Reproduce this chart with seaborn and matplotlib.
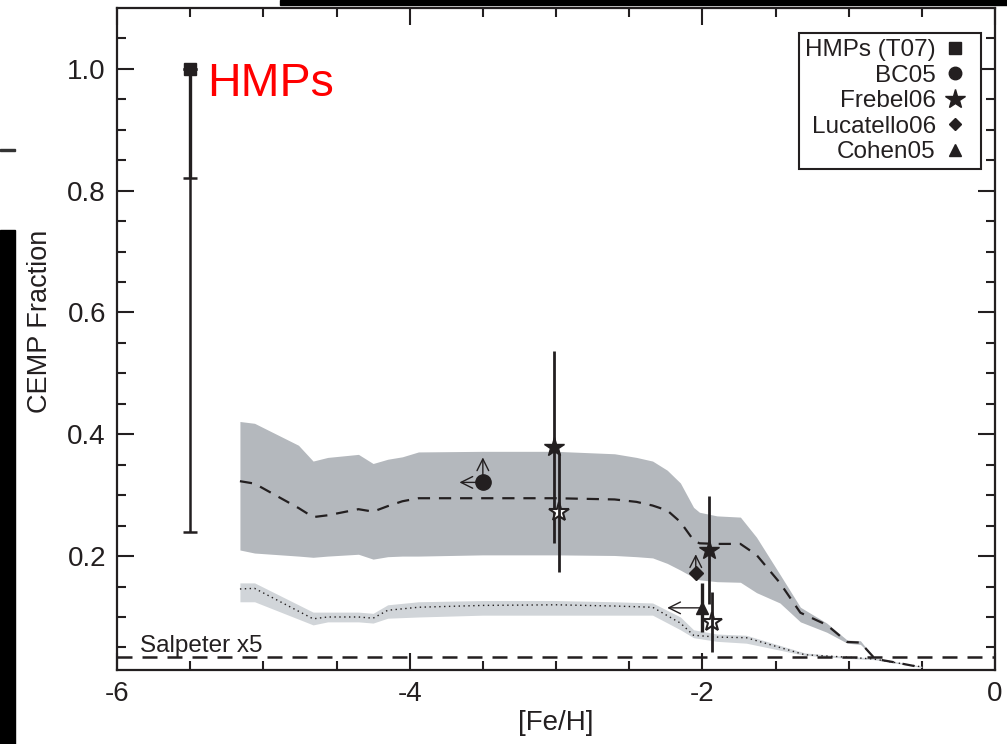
import numpy as np
import pandas as pd
import matplotlib
matplotlib.use("Agg")
import matplotlib.pyplot as plt
import seaborn as sns
from matplotlib.lines import Line2D
from matplotlib.patches import Rectangle

# ---------------- data ----------------
# upper (dark) model band: [Fe/H], lower edge, median, upper edge
upper_feh = [-5.16, -5.06, -4.76, -4.66, -4.56, -4.35, -4.25, -4.15, -4.05, -3.94,
             -3.50, -3.00, -2.60, -2.45, -2.34, -2.24, -2.15, -2.06, -2.02, -1.90,
             -1.74, -1.63, -1.47, -1.33, -1.15, -1.01, -0.92, -0.83, -0.79, -0.65, -0.52]
upper_lo = [0.210, 0.205, 0.200, 0.198, 0.200, 0.203, 0.195, 0.199, 0.200, 0.200,
            0.202, 0.202, 0.201, 0.199, 0.197, 0.188, 0.177, 0.165, 0.161, 0.158,
            0.157, 0.140, 0.123, 0.092, 0.075, 0.057, 0.055, 0.034, 0.030, 0.024, 0.018]
upper_mid = [0.323, 0.319, 0.279, 0.264, 0.267, 0.277, 0.273, 0.282, 0.290, 0.295,
             0.295, 0.295, 0.293, 0.289, 0.283, 0.275, 0.256, 0.226, 0.221, 0.220,
             0.220, 0.202, 0.156, 0.107, 0.087, 0.059, 0.058, 0.034, 0.030, 0.024, 0.018]
upper_hi = [0.421, 0.418, 0.382, 0.356, 0.362, 0.367, 0.352, 0.359, 0.363, 0.371,
            0.372, 0.372, 0.368, 0.362, 0.356, 0.341, 0.320, 0.280, 0.272, 0.266,
            0.264, 0.231, 0.170, 0.116, 0.090, 0.062, 0.061, 0.034, 0.030, 0.024, 0.018]

# lower (light) model band
lower_feh = [-5.16, -5.06, -4.66, -4.56, -4.35, -4.25, -4.15, -3.94, -3.50, -3.00,
             -2.60, -2.34, -2.15, -2.06, -1.90, -1.70, -1.30, -1.01, -0.83, -0.50]
lower_lo = [0.125, 0.125, 0.087, 0.092, 0.092, 0.090, 0.098, 0.100, 0.103, 0.103,
            0.103, 0.103, 0.079, 0.066, 0.060, 0.057, 0.037, 0.032, 0.030, 0.017]
lower_mid = [0.146, 0.147, 0.097, 0.100, 0.100, 0.098, 0.111, 0.116, 0.119, 0.120,
             0.118, 0.116, 0.090, 0.070, 0.067, 0.066, 0.038, 0.034, 0.031, 0.018]
lower_hi = [0.156, 0.156, 0.108, 0.108, 0.108, 0.106, 0.120, 0.125, 0.127, 0.127,
            0.125, 0.123, 0.100, 0.079, 0.072, 0.070, 0.041, 0.035, 0.033, 0.019]

salpeter_level = 0.034

# observations
hmp_feh, hmp_frac = -5.5, 1.00
hmp_err_inner = 0.18   # thick bar down to 0.82
hmp_err_outer = 0.76   # thin bar down to 0.24

bc05_feh, bc05_frac = -3.50, 0.321
lucatello_feh, lucatello_frac = -2.045, 0.172
cohen_feh, cohen_frac, cohen_err = -2.00, 0.115, 0.040

frebel_filled_feh = [-3.015, -1.956]
frebel_filled_frac = [0.379, 0.210]
frebel_filled_err = [0.158, 0.088]
frebel_open_feh = [-2.980, -1.935]
frebel_open_frac = [0.272, 0.092]
frebel_open_err = [0.098, 0.049]

# limit arrows: (x, y) -> (x_end, y_end)
arrow_start_x = [-3.50, -3.50, -2.045, -2.00]
arrow_start_y = [0.321, 0.321, 0.172, 0.115]
arrow_end_x = [-3.66, -3.50, -2.045, -2.24]
arrow_end_y = [0.321, 0.362, 0.203, 0.115]

legend_labels = ["HMPs (T07)", "BC05", "Frebel06", "Lucatello06", "Cohen05"]
x_ticks = [-6, -4, -2, 0]
y_ticks = [0.2, 0.4, 0.6, 0.8, 1.0]

# ---------------- style ----------------
sns.set_theme(style="ticks")
plt.rcParams['font.family'] = ['Liberation Sans', 'DejaVu Sans']
ink = '#231f20'
plt.rcParams['text.color'] = ink
plt.rcParams['axes.labelcolor'] = ink
plt.rcParams['xtick.color'] = ink
plt.rcParams['ytick.color'] = ink

fig = plt.figure(figsize=(10.07, 7.44), dpi=100)
ax = fig.add_axes([0.1162, 0.0995, 0.8719, 0.8898])

dark_band = '#b4b8bd'
light_band = '#d1d5d9'

up = pd.DataFrame({'feh': upper_feh, 'lo': upper_lo, 'mid': upper_mid, 'hi': upper_hi})
lo = pd.DataFrame({'feh': lower_feh, 'lo': lower_lo, 'mid': lower_mid, 'hi': lower_hi})

ax.fill_between(up['feh'], up['lo'], up['hi'], color=dark_band, lw=0, zorder=1)
ax.fill_between(lo['feh'], lo['lo'], lo['hi'], color=light_band, lw=0, zorder=1)

sns.lineplot(data=up, x='feh', y='mid', ax=ax, color=ink, lw=1.6,
             linestyle=(0, (5.5, 4)), zorder=2)
sns.lineplot(data=lo, x='feh', y='mid', ax=ax, color=ink, lw=1.0,
             linestyle=(0, (1, 2.5)), zorder=2)

ax.axhline(salpeter_level, color=ink, lw=1.8, linestyle=(0, (6, 4)), zorder=2)
ax.text(-5.84, 0.043, "Salpeter x5", fontsize=17.5, color=ink)

# arrows (limits)
for xs, ys, xe, ye in zip(arrow_start_x, arrow_start_y, arrow_end_x, arrow_end_y):
    ax.annotate("", xy=(xe, ye), xytext=(xs, ys),
                arrowprops=dict(arrowstyle='->,head_length=0.7,head_width=0.35',
                                color=ink, lw=1.0, shrinkA=0, shrinkB=0),
                zorder=3)

# HMPs
ax.errorbar([hmp_feh], [hmp_frac], yerr=[[hmp_err_outer], [0]], fmt='none',
            ecolor=ink, elinewidth=1.8, capsize=5, capthick=1.8, zorder=4)
ax.errorbar([hmp_feh], [hmp_frac], yerr=[[hmp_err_inner], [0]], fmt='none',
            ecolor=ink, elinewidth=2.4, capsize=5, capthick=1.8, zorder=4)
ax.plot([hmp_feh], [hmp_frac], marker='s', ms=9, color=ink, ls='none', zorder=5)
ax.text(-5.385, 0.956, "HMPs", color='#ff0000', fontsize=33.5)

# Frebel06
ax.errorbar(frebel_filled_feh, frebel_filled_frac, yerr=frebel_filled_err, fmt='*',
            ms=15, color=ink, ecolor=ink, elinewidth=2.0, capsize=0, zorder=5)
ax.plot(frebel_open_feh, frebel_open_frac, marker='*', ms=15, mfc='white', mec=ink,
        mew=1.5, ls='none', zorder=5)
ax.errorbar(frebel_open_feh, frebel_open_frac, yerr=frebel_open_err, fmt='none',
            ecolor=ink, elinewidth=2.0, capsize=0, zorder=6)

# Cohen05
ax.errorbar([cohen_feh], [cohen_frac], yerr=[cohen_err], fmt='^', ms=8, color=ink,
            ecolor=ink, elinewidth=2.4, capsize=0, zorder=5)
# BC05
ax.plot([bc05_feh], [bc05_frac], marker='o', ms=11, color=ink, ls='none', zorder=5)
# Lucatello06
ax.plot([lucatello_feh], [lucatello_frac], marker='D', ms=7.5, color=ink, ls='none', zorder=5)

# axes
ax.set_xlim(-6, 0)
ax.set_ylim(0.013, 1.1)
ax.set_xticks(x_ticks)
ax.set_xticklabels([f"{t}" for t in x_ticks])
ax.set_yticks(y_ticks)
ax.set_yticklabels([f"{t:.1f}" for t in y_ticks])
ax.set_xticks(np.arange(-6, 0.01, 0.5), minor=True)
ax.set_yticks(np.arange(0.05, 1.1, 0.05), minor=True)
ax.tick_params(which='both', direction='in', top=True, right=True, width=1.5,
               labelsize=20, colors=ink)
ax.tick_params(which='major', length=12.5, pad=8)
ax.tick_params(which='minor', length=6.5)
for s in ax.spines.values():
    s.set_linewidth(1.6)
    s.set_color(ink)
ax.set_xlabel("[Fe/H]", fontsize=20, labelpad=2)
ax.set_ylabel("CEMP Fraction", fontsize=19.5)
ax.yaxis.set_label_coords(-0.073, 0.527)

# legend
handles = [
    Line2D([], [], marker='s', ls='none', color=ink, ms=8),
    Line2D([], [], marker='o', ls='none', color=ink, ms=9),
    Line2D([], [], marker='*', ls='none', color=ink, ms=15),
    Line2D([], [], marker='D', ls='none', color=ink, ms=6),
    Line2D([], [], marker='^', ls='none', color=ink, ms=8),
]
leg = ax.legend(handles, legend_labels, loc='upper right',
                bbox_to_anchor=(0.984, 0.962), borderaxespad=0, markerfirst=False,
                frameon=True, fancybox=False, framealpha=1, edgecolor=ink,
                fontsize=17.5, handlelength=1.6, handletextpad=0.0,
                labelspacing=0.14, borderpad=0.26)
leg.get_frame().set_linewidth(1.5)

# cropping remnants visible in reference
fig.patches.append(Rectangle((280 / 1007, 1 - 5 / 744), 1 - 280 / 1007, 5 / 744,
                             transform=fig.transFigure, color='black', zorder=10))
fig.patches.append(Rectangle((0, 0), 15 / 1007, 1 - 230 / 744,
                             transform=fig.transFigure, color='black', zorder=10))
fig.patches.append(Rectangle((0, 1 - 151 / 744), 15 / 1007, 1.5 / 744,
                             transform=fig.transFigure, color='#333333', zorder=10))

fig.savefig("out.png", dpi=100)
